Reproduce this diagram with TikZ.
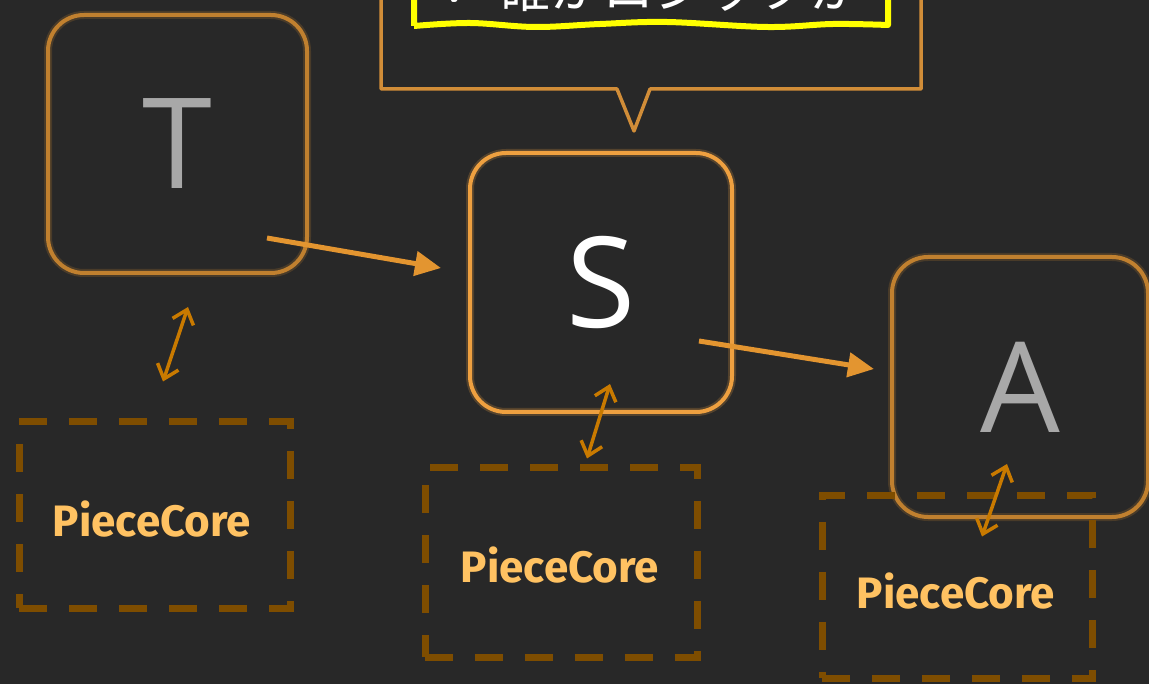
\documentclass[tikz,border=0pt]{standalone}
\usepackage{fontspec}
\setmainfont{Open Sans}
\newfontfamily\labelfont{Fira Sans}
\newfontfamily\cjk{Noto Sans CJK JP}
\newfontfamily\symfont{DejaVu Sans}
\usetikzlibrary{arrows.meta,calc}

\definecolor{bg}{HTML}{282828}
\definecolor{edgeon}{HTML}{EEA040}
\definecolor{edgeoff}{HTML}{C0802F}
\definecolor{flow}{HTML}{E39530}
\definecolor{link}{HTML}{C97A00}
\definecolor{corebox}{HTML}{7E4D00}
\definecolor{coretext}{HTML}{FFC262}
\definecolor{lettergray}{HTML}{A8A8A8}
\definecolor{note}{HTML}{FFFF00}

\tikzset{
  statebox/.style={draw=#1, line width=4pt, rounded corners=36pt,
    inner sep=0pt, font=\fontsize{126}{126}\selectfont},
  coreframe/.style={draw=corebox, line width=7pt, dash pattern=on 28pt off 22pt,
    inner sep=0pt},
  corelabel/.style={font=\labelfont\bfseries\fontsize{44}{44}\selectfont,
    text=coretext, inner sep=0pt},
  flowarrow/.style={draw=flow, line width=5pt,
    -{Triangle[length=26pt,width=24pt]}},
  linkarrow/.style={draw=link, line width=3.5pt,
    {Straight Barb[length=13pt,width=22pt,line width=3.5pt]}-{Straight Barb[length=13pt,width=22pt,line width=3.5pt]}},
  bubble/.style={draw=edgeon!88!black, line width=3.5pt, line join=round},
}

\begin{document}
\begin{tikzpicture}[x=1pt,y=-1pt]
\useasboundingbox (0,0) rectangle (1149,684);
\fill[bg] (0,0) rectangle (1149,684);
\clip (0,0) rectangle (1149,684);

% speech bubble with its pointer
\draw[bubble] (381,-20) -- (381,89) -- (617,89) -- (634,131) -- (650,89)
  -- (921,89) -- (921,-20);

% highlighted note inside the bubble, wavy lower edge
\draw[note, line width=6pt, line join=round]
  (414,-20) -- (414,26)
  plot[smooth, tension=0.6] coordinates {(414,26) (470,23) (535,27) (600,24)
    (667,22) (767,27) (833,24) (888,25)}
  -- (888,-20);
\node[anchor=base, text=white, inner sep=0pt] (note) at (652,8)
  {\fontsize{52}{52}\selectfont{\symfont ✓} \cjk 確かロジックが};

% state boxes, with a soft halo under each outline
\begin{scope}[opacity=0.22]
  \node[statebox=edgeoff, line width=8pt, minimum width=259pt, minimum height=258pt] at (177.5,144) {};
  \node[statebox=edgeon, line width=8pt, minimum width=262pt, minimum height=259pt] at (601,282.5) {};
  \node[statebox=edgeoff, line width=8pt, minimum width=256pt, minimum height=260pt] at (1020,387) {};
\end{scope}
\node[statebox=edgeoff, text=lettergray, minimum width=259pt, minimum height=258pt] (T) at (177.5,144) {T};
\node[statebox=edgeon, text=white, minimum width=262pt, minimum height=259pt] (S) at (601,282.5) {S};
\node[statebox=edgeoff, text=lettergray, minimum width=256pt, minimum height=260pt] (A) at (1020,387) {A};

% core frames under each state
\node[coreframe, minimum width=271pt, minimum height=186pt] (PC1) at (154.5,515) {};
\node[coreframe, minimum width=272pt, minimum height=189pt] (PC2) at (561,562.5) {};
\node[coreframe, minimum width=270pt, minimum height=183pt] (PC3) at (957,586.5) {};
\node[corelabel] (PC1t) at (152,519) {PieceCore};
\node[corelabel] (PC2t) at (560,565) {PieceCore};
\node[corelabel] (PC3t) at (956,591) {PieceCore};

% transitions between states
\coordinate (ts1) at ($(T.south east)+(-42,-37)$);
\coordinate (ts2) at ($(S.west)+(-27,-14.5)$);
\coordinate (sa1) at ($(S.east)+(-35,58.5)$);
\coordinate (sa2) at ($(A.west)+(-16,-18)$);
\draw[flowarrow] (ts1) -- (ts2);
\draw[flowarrow] (sa1) -- (sa2);

% links between each state and its core
\coordinate (l1a) at ($(T.south)+(10.5,32)$);
\coordinate (l1b) at ($(PC1.north)+(8.5,-37)$);
\coordinate (l2a) at ($(S.south)+(9,-30)$);
\coordinate (l2b) at ($(PC2.north)+(26,-6)$);
\coordinate (l3a) at ($(A.south)+(-13,-55)$);
\coordinate (l3b) at ($(PC3.north)+(25,45)$);
\draw[linkarrow] (l1b) -- (l1a);
\draw[linkarrow] (l2b) -- (l2a);
\draw[linkarrow] (l3b) -- (l3a);
\end{tikzpicture}
\end{document}
